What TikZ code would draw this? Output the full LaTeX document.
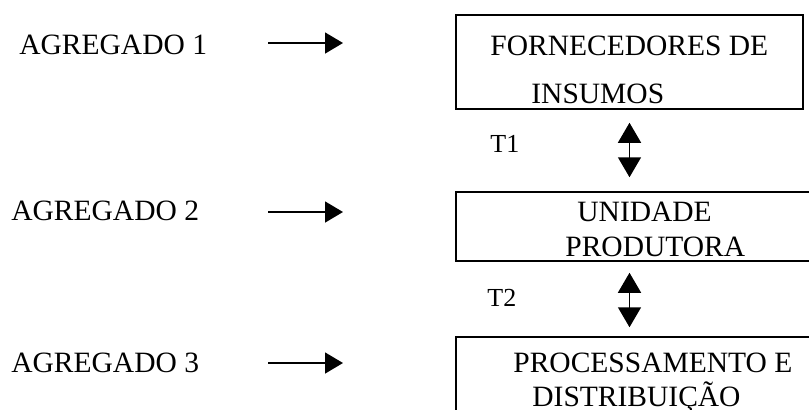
\documentclass[tikz,border=0pt]{standalone}
\usepackage{fontspec}
\setmainfont{Liberation Serif}
\usetikzlibrary{arrows.meta}

\tikzset{
	caixa/.style={draw,line width=0.75pt,inner sep=0pt},
	texto/.style={anchor=base west,inner sep=0pt,font=\fontsize{14.75pt}{17pt}\selectfont},
	rotulo/.style={anchor=base west,inner sep=0pt,font=\fontsize{13pt}{15pt}\selectfont},
	seta/.style={line width=0.75pt,-{Triangle[length=9pt,width=10.5pt]}},
	dupla/.style={line width=0.75pt,{Triangle[length=10pt,width=11.5pt]}-{Triangle[length=10pt,width=11.5pt]}}
}

\begin{document}
\begin{tikzpicture}[x=0.5pt,y=-0.5pt]
\useasboundingbox (0,0) rectangle (809,409);
\clip (0,0) rectangle (809,409);

% caixas
\node[caixa,minimum width=173.5pt,minimum height=47pt] (forn) at (629.5,62) {};
\node[caixa,minimum width=182pt,minimum height=34.5pt] (unid) at (638,226.5) {};
\node[caixa,minimum width=182pt,minimum height=46.5pt] (proc) at (638,383.5) {};

\node[texto] (forn1) at (490,55) {FORNECEDORES DE};
\node[texto] (forn2) at (531,103) {INSUMOS};
\node[texto] (unid1) at (577,221) {UNIDADE};
\node[texto] (unid2) at (565,256) {PRODUTORA};
\node[texto] (proc1) at (513,372) {PROCESSAMENTO E};
\node[texto] (proc2) at (532,406) {DISTRIBUIÇÃO};

% agregados
\node[texto] (ag1) at (19,54) {AGREGADO 1};
\node[texto] (ag2) at (11,220) {AGREGADO 2};
\node[texto] (ag3) at (11,372) {AGREGADO 3};

\def\xa{268}
\def\xb{343}
\coordinate (a1) at (\xa,43);  \coordinate (b1) at (\xb,43);
\coordinate (a2) at (\xa,212); \coordinate (b2) at (\xb,212);
\coordinate (a3) at (\xa,363); \coordinate (b3) at (\xb,363);
\foreach \i in {1,2,3}
	\draw[seta] (a\i) -- (b\i);

% transacoes
\draw[dupla,shorten <=6.5pt,shorten >=7pt] (forn.south) -- (forn.south |- unid.north);
\draw[dupla,shorten <=5.5pt,shorten >=4.5pt] (forn.south |- unid.south) -- (forn.south |- proc.north);
\node[rotulo] (t1) at (490,152) {T1};
\node[rotulo] (t2) at (487,306) {T2};

\end{tikzpicture}
\end{document}
